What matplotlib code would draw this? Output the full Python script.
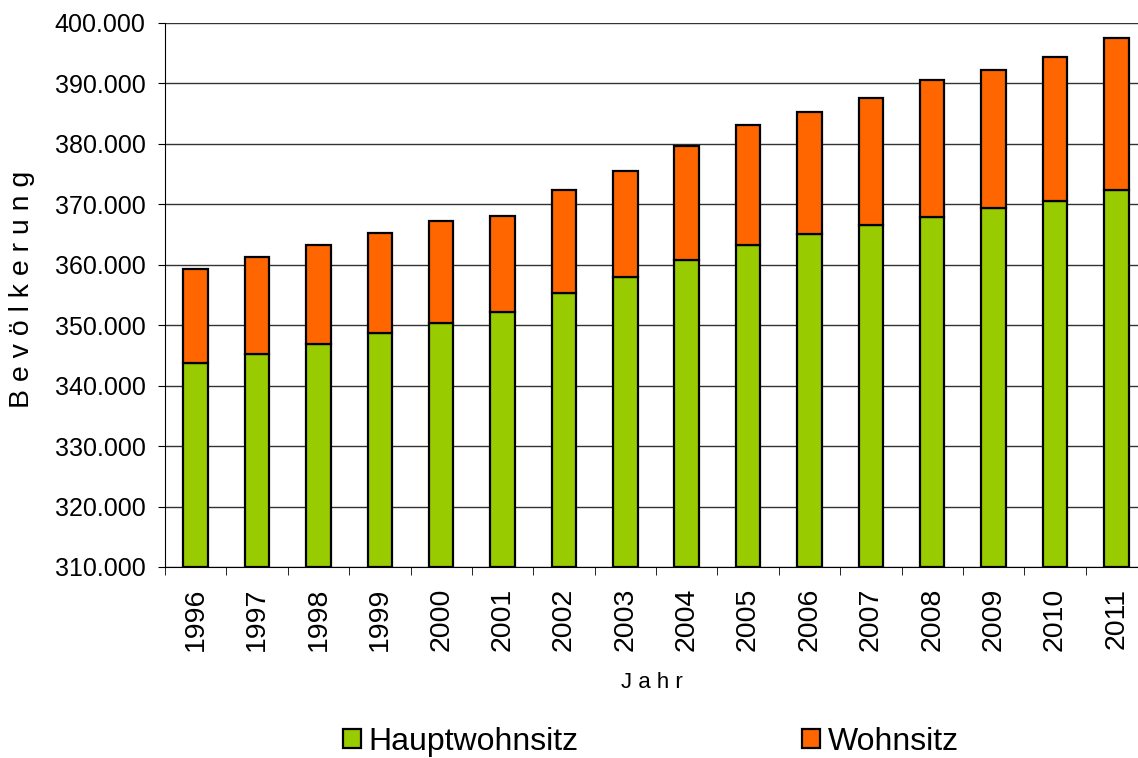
import numpy as np
import matplotlib.pyplot as plt
from matplotlib.ticker import FuncFormatter

plt.rcParams['font.family'] = ['Liberation Sans', 'DejaVu Sans']

# Data
jahre = ['1996', '1997', '1998', '1999', '2000', '2001', '2002', '2003',
         '2004', '2005', '2006', '2007', '2008', '2009', '2010', '2011']
gesamt = [359300, 361300, 363300, 365200, 367300, 368100, 372400, 375500,
          379700, 383100, 385300, 387600, 390600, 392200, 394400, 397600]
hauptwohnsitz = [343800, 345300, 346900, 348700, 350300, 352200, 355300, 358000,
                 360800, 363300, 365100, 366600, 367900, 369400, 370600, 372400]
wohnsitz = [g - h for g, h in zip(gesamt, hauptwohnsitz)]

basis = 310000
x = np.arange(len(jahre))

fig = plt.figure(figsize=(11.38, 7.58), dpi=100)
ax = fig.add_axes([165 / 1138, 191 / 758, 982 / 1138, 544 / 758])

green = '#99CC00'
orange = '#FF6600'
ax.bar(x, [h - basis for h in hauptwohnsitz], bottom=basis, width=0.4,
       color=green, edgecolor='black', linewidth=1.6, label='Hauptwohnsitz', zorder=3)
ax.bar(x, wohnsitz, bottom=hauptwohnsitz, width=0.4,
       color=orange, edgecolor='black', linewidth=1.6, label='Wohnsitz', zorder=3)

ax.set_xlim(-0.5, len(jahre) - 0.5)
ax.set_ylim(310000, 400000)
ax.set_yticks(np.arange(310000, 400001, 10000))
ax.yaxis.set_major_formatter(FuncFormatter(lambda v, p: f'{int(v):,}'.replace(',', '.')))
ax.grid(axis='y', color='#333333', linewidth=1.0, zorder=0)

ax.set_xticks(x)
ax.set_xticklabels(jahre, rotation=90)
ax.set_xticks(np.arange(-0.5, len(jahre)), minor=True)
ax.tick_params(axis='x', which='major', length=0, pad=15, labelsize=20.5)
ax.tick_params(axis='x', which='minor', length=6, color='black')
ax.tick_params(axis='y', length=5, labelsize=18, pad=9)

for s in ['top', 'right']:
    ax.spines[s].set_visible(False)
ax.spines['left'].set_color('black')
ax.spines['bottom'].set_color('black')

fig.text(22 / 1138, 1 - 289 / 758, 'B e v ö l k e r u n g', fontsize=20.5,
         rotation=90, ha='center', va='center')
fig.text(652 / 1138, 1 - 683 / 758, 'J a h r', fontsize=16, ha='center', va='center')

fig.legend(loc='center', bbox_to_anchor=(651 / 1138, 1 - 742 / 758), ncol=2,
           frameon=False, fontsize=23, handlelength=0.55, handleheight=0.55,
           handletextpad=0.25, columnspacing=7.0,
           borderaxespad=0, borderpad=0)

fig.savefig('out.png', dpi=100)
